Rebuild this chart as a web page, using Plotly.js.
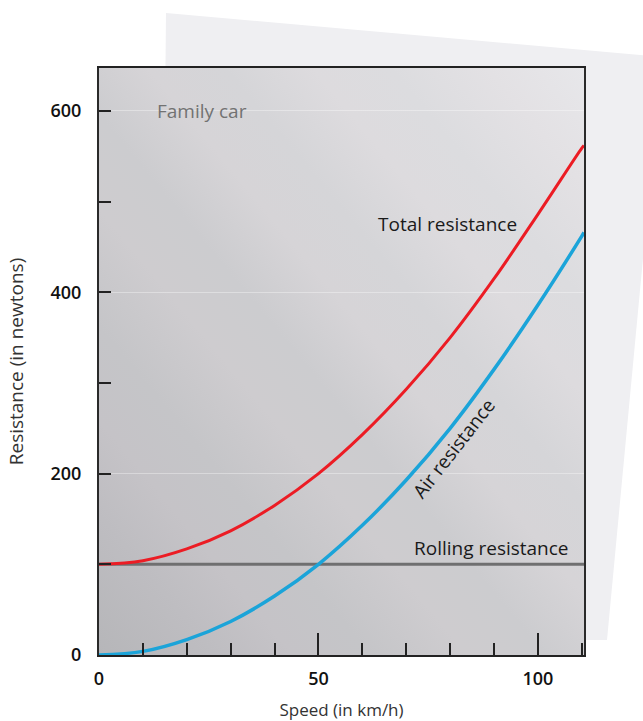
<!DOCTYPE html>
<html>
<head>
<meta charset="utf-8">
<script src="https://cdn.plot.ly/plotly-3.0.1.min.js"></script>
<style>
html,body{margin:0;padding:0;background:#ffffff;}
#chart{width:643px;height:721px;}
</style>
</head>
<body>
<div id="chart"></div>
<script>
// ---- data ----
const speed    = [0, 10, 20, 30, 40, 50, 60, 70, 80, 90, 100, 110, 110.5];
const airRes   = [0, 4, 17, 37, 65, 100, 143, 193, 250, 315, 386, 462, 466];
const totalRes = [100, 104, 117, 137, 165, 200, 243, 293, 350, 415, 486, 559, 562];
const rollingSpeed = [0, 110.5];
const rollingRes   = [100, 100];
const yTickVals = [0, 200, 400, 600];
const yTickText = ['0', '200', '400', '600'];
const xTickVals = [0, 50, 100];
const xTickText = ['0', '50', '100'];

// background pictures (styling only)
const sheetSvg = "<svg xmlns='http://www.w3.org/2000/svg' viewBox='0 0 643 721' preserveAspectRatio='none'>" +
  "<polygon points='166,13 662,57 607,640 160,640' fill='#efeff2'/></svg>";
const plotSvg = "<svg xmlns='http://www.w3.org/2000/svg' viewBox='0 0 485 587' preserveAspectRatio='none'>" +
  "<defs><linearGradient id='g' x1='0' y1='1' x2='1' y2='0'>" +
  "<stop offset='0' stop-color='#b6b6b9'/>" +
  "<stop offset='0.12' stop-color='#bebdc1'/>" +
  "<stop offset='0.2' stop-color='#c5c3c7'/>" +
  "<stop offset='0.28' stop-color='#c5c5c8'/>" +
  "<stop offset='0.38' stop-color='#cecccf'/>" +
  "<stop offset='0.46' stop-color='#cccccf'/>" +
  "<stop offset='0.55' stop-color='#d6d4d7'/>" +
  "<stop offset='0.63' stop-color='#d5d5d8'/>" +
  "<stop offset='0.72' stop-color='#dddbde'/>" +
  "<stop offset='0.8' stop-color='#dcdcdf'/>" +
  "<stop offset='0.9' stop-color='#e3e1e4'/>" +
  "<stop offset='1' stop-color='#e7e7ea'/>" +
  "</linearGradient></defs><rect width='485' height='587' fill='url(#g)'/></svg>";

const traces = [
  {x: rollingSpeed, y: rollingRes, mode: 'lines', name: 'Rolling resistance',
   line: {color: '#6f6f70', width: 3}, hoverinfo: 'skip'},
  {x: speed, y: airRes, mode: 'lines', name: 'Air resistance',
   line: {color: '#1ba4d9', width: 3.5, shape: 'spline', smoothing: 1}, hoverinfo: 'skip'},
  {x: speed, y: totalRes, mode: 'lines', name: 'Total resistance',
   line: {color: '#ec1c24', width: 3, shape: 'spline', smoothing: 1}, hoverinfo: 'skip'}
];

const fontFam = '"Open Sans", "Noto Sans", sans-serif';

const layout = {
  width: 643, height: 721,
  margin: {l: 99, r: 59, t: 68, b: 66, pad: 0},
  paper_bgcolor: 'rgba(0,0,0,0)',
  plot_bgcolor: 'rgba(0,0,0,0)',
  showlegend: false,
  font: {family: fontFam, color: '#222'},
  xaxis: {
    range: [0, 110.5], fixedrange: true,
    tickvals: xTickVals, ticktext: xTickText,
    ticks: 'inside', ticklen: 22, tickwidth: 2, tickcolor: '#222',
    minor: {dtick: 10, tick0: 0, ticks: 'inside', ticklen: 12, tickwidth: 2, tickcolor: '#222', showgrid: false},
    showgrid: false, zeroline: false,
    showline: true, linecolor: '#222', linewidth: 2, mirror: true,
    tickfont: {size: 18, weight: 600, color: '#111'},
    ticklabelstandoff: 6,
    title: {text: 'Speed (in km/h)', font: {size: 17, color: '#333'}, standoff: 22}
  },
  yaxis: {
    range: [0, 647.4], fixedrange: true,
    tickvals: yTickVals, ticktext: yTickText,
    ticks: 'inside', ticklen: 12, tickwidth: 2, tickcolor: '#222',
    minor: {dtick: 100, tick0: 0, ticks: 'inside', ticklen: 12, tickwidth: 2, tickcolor: '#222', showgrid: false},
    showgrid: true, gridcolor: 'rgba(255,255,255,0.35)', gridwidth: 1,
    zeroline: false,
    showline: true, linecolor: '#2a2a2a', linewidth: 2, mirror: true,
    tickfont: {size: 18, weight: 600, color: '#111'},
    ticklabelstandoff: 12,
    title: {text: 'Resistance (in newtons)', font: {size: 19, color: '#333'}, standoff: 22}
  },
  images: [
    {source: 'data:image/svg+xml;charset=utf-8,' + encodeURIComponent(sheetSvg),
     xref: 'paper', yref: 'paper', x: -99/485, y: 655/587, sizex: 643/485, sizey: 721/587,
     sizing: 'stretch', xanchor: 'left', yanchor: 'top', layer: 'below'},
    {source: 'data:image/svg+xml;charset=utf-8,' + encodeURIComponent(plotSvg),
     xref: 'paper', yref: 'paper', x: 0, y: 1, sizex: 1, sizey: 1,
     sizing: 'stretch', xanchor: 'left', yanchor: 'top', layer: 'below'}
  ],
  annotations: [
    {text: 'Family car', x: 12.8, y: 600, xref: 'x', yref: 'y', xanchor: 'left', yanchor: 'middle',
     showarrow: false, font: {size: 19, color: '#727272'}},
    {text: 'Total resistance', x: 79.5, y: 475, xref: 'x', yref: 'y', xanchor: 'center', yanchor: 'middle',
     showarrow: false, font: {size: 19, color: '#1a1a1a'}},
    {text: 'Rolling resistance', x: 89.5, y: 118, xref: 'x', yref: 'y', xanchor: 'center', yanchor: 'middle',
     showarrow: false, font: {size: 19, color: '#1a1a1a'}},
    {text: 'Air resistance', x: 80.9, y: 228, xref: 'x', yref: 'y', xanchor: 'center', yanchor: 'middle',
     textangle: -52, showarrow: false, font: {size: 19, color: '#1a1a1a'}}
  ]
};

Plotly.newPlot('chart', traces, layout, {staticPlot: true, displayModeBar: false});
</script>
</body>
</html>
